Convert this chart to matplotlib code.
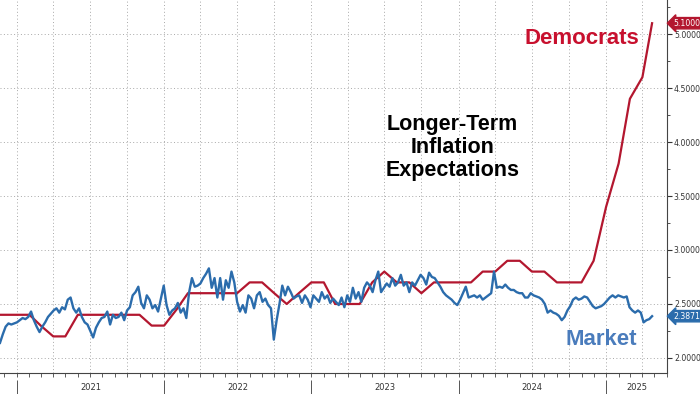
import numpy as np
import pandas as pd
import matplotlib
matplotlib.use('Agg')
import matplotlib.pyplot as plt
import matplotlib.dates as mdates
from matplotlib.ticker import MultipleLocator, FormatStrFormatter, FixedLocator, NullFormatter

# Market-based long-term inflation expectations (weekly readings)
market_start = '2020-11-20'
market_values = [
    2.14, 2.22, 2.29, 2.32, 2.31, 2.32, 2.33, 2.35, 2.37, 2.36,
    2.38, 2.43, 2.35, 2.29, 2.24, 2.29, 2.33, 2.38, 2.41, 2.44,
    2.46, 2.42, 2.47, 2.45, 2.54, 2.56, 2.46, 2.42, 2.46, 2.38,
    2.33, 2.31, 2.25, 2.19, 2.28, 2.33, 2.37, 2.38, 2.43, 2.31,
    2.40, 2.37, 2.38, 2.42, 2.35, 2.44, 2.47, 2.58, 2.61, 2.66,
    2.51, 2.46, 2.58, 2.54, 2.46, 2.49, 2.43, 2.55, 2.67, 2.49,
    2.40, 2.44, 2.46, 2.51, 2.42, 2.46, 2.37, 2.61, 2.74, 2.66,
    2.67, 2.69, 2.74, 2.78, 2.83, 2.65, 2.74, 2.56, 2.74, 2.54,
    2.72, 2.65, 2.80, 2.70, 2.52, 2.43, 2.49, 2.42, 2.58, 2.55,
    2.46, 2.58, 2.61, 2.52, 2.55, 2.49, 2.46, 2.17, 2.35, 2.50,
    2.67, 2.58, 2.66, 2.61, 2.55, 2.57, 2.58, 2.51, 2.58, 2.54,
    2.47, 2.58, 2.55, 2.52, 2.61, 2.55, 2.58, 2.51, 2.55, 2.52,
    2.49, 2.56, 2.47, 2.58, 2.52, 2.65, 2.55, 2.61, 2.52, 2.65,
    2.70, 2.67, 2.61, 2.72, 2.80, 2.61, 2.65, 2.69, 2.66, 2.74,
    2.67, 2.70, 2.77, 2.67, 2.70, 2.61, 2.70, 2.67, 2.72, 2.77,
    2.74, 2.68, 2.79, 2.75, 2.74, 2.70, 2.66, 2.61, 2.58, 2.56,
    2.54, 2.51, 2.49, 2.54, 2.60, 2.66, 2.56, 2.57, 2.58, 2.56,
    2.58, 2.54, 2.56, 2.58, 2.60, 2.80, 2.65, 2.66, 2.65, 2.68,
    2.65, 2.63, 2.63, 2.61, 2.60, 2.60, 2.56, 2.56, 2.60, 2.58,
    2.57, 2.56, 2.54, 2.50, 2.42, 2.44, 2.42, 2.41, 2.39, 2.35,
    2.38, 2.44, 2.48, 2.54, 2.56, 2.54, 2.55, 2.57, 2.56, 2.52,
    2.48, 2.46, 2.47, 2.48, 2.50, 2.53, 2.56, 2.58, 2.56, 2.58,
    2.57, 2.56, 2.57, 2.47, 2.44, 2.42, 2.44, 2.42, 2.33, 2.35,
    2.36, 2.3871,
]
market_dates = pd.date_range(market_start, periods=len(market_values), freq='7D')

# Democrats' long-term inflation expectations (monthly survey)
dem_months = list(pd.date_range('2020-11-01', periods=54, freq='MS')) + [pd.Timestamp('2025-04-25')]
dem_values = [
    2.4, 2.4, 2.4, 2.4, 2.3, 2.2, 2.2, 2.4, 2.4, 2.4,
    2.4, 2.4, 2.4, 2.3, 2.3, 2.45, 2.6, 2.6, 2.6, 2.6,
    2.6, 2.7, 2.7, 2.6, 2.5, 2.6, 2.7, 2.7, 2.5, 2.5,
    2.5, 2.7, 2.8, 2.7, 2.7, 2.6, 2.7, 2.7, 2.7, 2.7,
    2.8, 2.8, 2.9, 2.9, 2.8, 2.8, 2.7, 2.7, 2.7, 2.9,
    3.4, 3.8, 4.4, 4.6, 5.1,
]

years = [2021, 2022, 2023, 2024, 2025]

red = '#b3172f'
blue = '#2b6cac'

fig = plt.figure(figsize=(7, 3.94), dpi=100)
ax = fig.add_axes([0, 21 / 394, 667 / 700, 373 / 394])

ax.plot(dem_months, dem_values, color=red, lw=1.6, zorder=3)
ax.plot(market_dates, market_values, color=blue, lw=1.7, zorder=4)

xmin = pd.Timestamp('2020-11-20')
xmax = pd.Timestamp('2025-06-01')
ax.set_xlim(xmin, xmax)
ax.set_ylim(1.861, 5.315)

# right axis
ax.yaxis.tick_right()
ax.yaxis.set_major_locator(MultipleLocator(0.5))
ax.yaxis.set_minor_locator(MultipleLocator(0.25))
ax.yaxis.set_major_formatter(FormatStrFormatter('%.4f'))
ax.tick_params(axis='y', which='major', length=3.5, width=0.8, labelsize=5.6,
               colors='#333333', pad=1.5)
ax.tick_params(axis='y', which='minor', length=2.5, width=0.6, colors='#333333')

# bottom axis: monthly ticks, no labels
ax.xaxis.set_major_locator(mdates.MonthLocator())
ax.xaxis.set_major_formatter(NullFormatter())
ax.tick_params(axis='x', which='major', length=3, width=0.6, colors='#444444')

for s in ['top', 'left']:
    ax.spines[s].set_visible(False)
for s in ['right', 'bottom']:
    ax.spines[s].set_color('#444444')
    ax.spines[s].set_linewidth(0.8)

# grid: quarterly vertical, 0.5 horizontal
for d in pd.date_range('2021-01-01', '2025-04-01', freq='QS'):
    ax.axvline(d, color='#a8a8a8', lw=0.7, ls=(0, (1, 2.5)), zorder=1)
ax.grid(axis='y', which='major', color='#a8a8a8', lw=0.7, ls=(0, (1, 2.5)), zorder=1)

# year separators and labels below axis
sec = ax.secondary_xaxis(location=-0.02)
sec.spines['bottom'].set_visible(False)
year_starts = [pd.Timestamp(f'{y}-01-01') for y in years]
sec.xaxis.set_major_locator(FixedLocator(mdates.date2num(year_starts)))
sec.xaxis.set_major_formatter(NullFormatter())
sec.tick_params(axis='x', which='major', length=10, width=0.7, colors='#555555')
label_pos = []
for y in years:
    a = pd.Timestamp(f'{y}-01-01')
    b = min(pd.Timestamp(f'{y + 1}-01-01'), xmax)
    label_pos.append(mdates.date2num(a) + (mdates.date2num(b) - mdates.date2num(a)) / 2)
sec.xaxis.set_minor_locator(FixedLocator(label_pos))
sec.xaxis.set_minor_formatter(matplotlib.ticker.FixedFormatter([str(y) for y in years]))
sec.tick_params(axis='x', which='minor', length=0, labelsize=6, colors='#333333', pad=1.5)

# last value tags
for val, col in [(dem_values[-1], red), (market_values[-1], blue)]:
    ax.annotate(f'{val:.4f}', xy=(1.0, val),
                xycoords=('axes fraction', 'data'), xytext=(4.5, 0), textcoords='offset points',
                ha='left', va='center', fontsize=5.6, color='white',
                bbox=dict(boxstyle='larrow,pad=0.15', fc=col, ec=col),
                annotation_clip=False, zorder=6)

# annotations
ax.text(pd.Timestamp('2024-11-01'), 4.96, 'Democrats', color='#c8102e', fontsize=16,
        fontweight='bold', family='Liberation Sans', ha='center', va='center')
ax.text(pd.Timestamp('2023-12-17'), 3.95, 'Longer-Term\nInflation\nExpectations',
        color='black', fontsize=15.5, fontweight='bold', family='Liberation Sans',
        ha='center', va='center', linespacing=1.12)
ax.text(pd.Timestamp('2024-12-19'), 2.17, 'Market', color='#4a7cbc', fontsize=16,
        fontweight='bold', family='Liberation Sans', ha='center', va='center')

fig.savefig('out.png', dpi=100)
